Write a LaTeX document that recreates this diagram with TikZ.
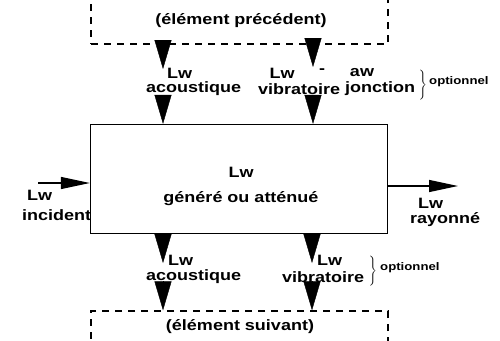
\documentclass[tikz,border=0pt]{standalone}
\usepackage{fontspec}
\setmainfont{Liberation Sans}[FakeStretch=1.2]
\usetikzlibrary{arrows.meta,positioning}
\tikzset{
  bloc/.style={draw, line width=1.3pt, minimum width=297pt, minimum height=109pt},
  pointille/.style={draw, dashed, dash pattern=on 7pt off 6pt, line width=1.3pt, minimum width=297pt, minimum height=48pt},
  fleche/.style={-{Triangle[length=29pt,width=17pt]}},
  flecheh/.style={line width=1.3pt, -{Triangle[length=29pt,width=12pt]}},
  txt/.style={font=\bfseries\fontsize{15}{25}\selectfont, inner sep=0pt},
  petit/.style={font=\bfseries\fontsize{11}{12}\selectfont, inner sep=0pt}
}

\begin{document}
\begin{tikzpicture}[x=1pt,y=-1pt]
\useasboundingbox (0,0) rectangle (500,340);

\node[bloc](bloc) at (239,179){};
\node[txt, align=center](texte) at (241,186){Lw\\généré ou atténué};
\node[pointille](prec) at (239.5,20){};
\node[pointille](suiv) at (239.5,335){};
\node[txt](tprec) at (241,21){(élément précédent)};
\node[txt](tsuiv) at (240,327){(élément suivant)};

% fleches du haut
\coordinate (hg1) at (163,69);
\coordinate (hg2) at (163,95);
\coordinate (hd1) at (313,67);
\coordinate (hd2) at (313,95);
\draw[fleche] (prec.south -| hg1) -- (hg1);
\draw[fleche] (hg2) -- (bloc.north -| hg2);
\draw[fleche] (prec.south -| hd1) -- (hd1);
\draw[fleche] (hd2) -- (bloc.north -| hd2);

% fleches du bas
\coordinate (bg1) at (163,263);
\coordinate (bg2) at (163,281);
\coordinate (bd1) at (312,263);
\coordinate (bd2) at (312,281);
\draw[fleche] (bloc.south -| bg1) -- (bg1);
\draw[fleche] (bg2) -- (suiv.north -| bg2);
\draw[fleche] (bloc.south -| bd1) -- (bd1);
\draw[fleche] (bd2) -- (suiv.north -| bd2);

% entree et sortie
\coordinate (entree) at (38,183);
\coordinate (sortie) at (458,186);
\draw[flecheh] (entree) -- (bloc.west |- entree);
\draw[flecheh] (bloc.east |- sortie) -- (sortie);

% textes
\node[txt, anchor=west](lwha) at (167,73){Lw};
\node[txt, anchor=west](acouh) at (146,89){acoustique};
\node[txt](lwhv) at (282,73){Lw};
\node[txt](tiret) at (322,71){-};
\node[txt](aw) at (362,73){aw};
\node[txt, anchor=west](vibh) at (258,89){vibratoire};
\node[txt, anchor=west](jonc) at (345,89){jonction};
\node[inner sep=0pt](acch) at (423,85){$\Bigg\}$};
\node[petit, anchor=west](opth) at (429,82){optionnel};

\node[txt, anchor=west](lwba) at (168,260){Lw};
\node[txt, anchor=west](acoub) at (146,277){acoustique};
\node[txt, anchor=west](lwbv) at (317,260){Lw};
\node[txt, anchor=west](vibb) at (282,277){vibratoire};
\node[inner sep=0pt](accb) at (373,271){$\Bigg\}$};
\node[petit, anchor=west](optb) at (380,268){optionnel};

\node[txt, anchor=west](lwe) at (27,195){Lw};
\node[txt, anchor=west](inc) at (22,215){incident};
\node[txt, anchor=west](lws) at (418,203){Lw};
\node[txt, anchor=west](ray) at (410,220){rayonné};
\end{tikzpicture}
\end{document}
